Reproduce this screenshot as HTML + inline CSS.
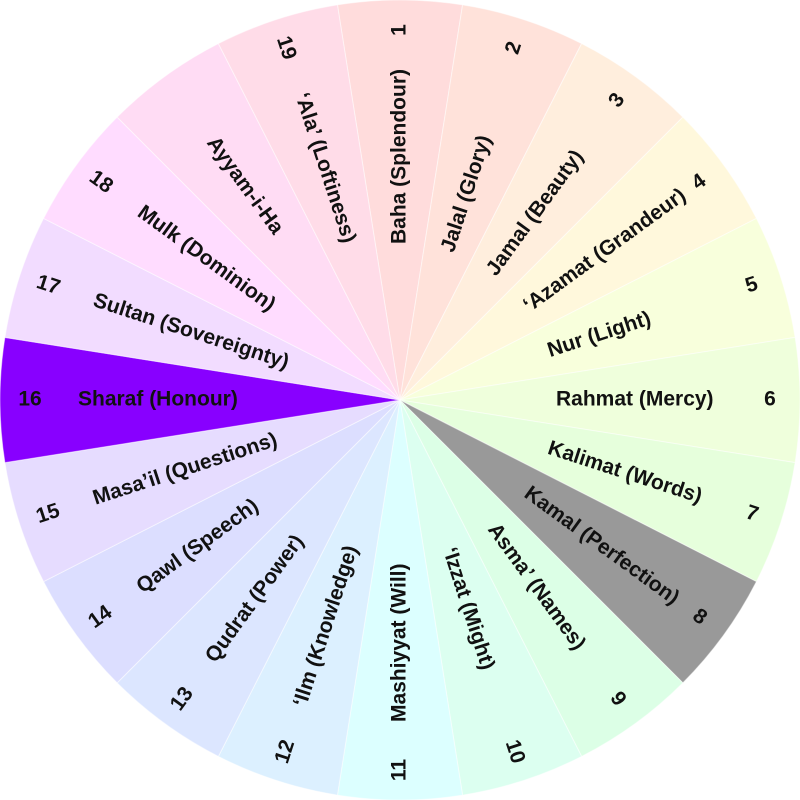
<!DOCTYPE html>
<html><head><meta charset="utf-8"><style>
html,body{margin:0;padding:0;background:#fff;width:800px;height:800px;overflow:hidden}
text{font-family:"Liberation Sans",sans-serif;font-size:21px;font-weight:bold;fill:#111}
</style></head><body>
<svg id="s" width="800" height="800" viewBox="0 0 800 800" xmlns="http://www.w3.org/2000/svg"></svg>
<script>
var names=["Baha (Splendour)","Jalal (Glory)","Jamal (Beauty)","‘Azamat (Grandeur)","Nur (Light)","Rahmat (Mercy)","Kalimat (Words)","Kamal (Perfection)","Asma’ (Names)","‘Izzat (Might)","Mashiyyat (Will)","‘Ilm (Knowledge)","Qudrat (Power)","Qawl (Speech)","Masa’il (Questions)","Sharaf (Honour)","Sultan (Sovereignty)","Mulk (Dominion)","Ayyam-i-Ha","‘Ala’ (Loftiness)"];
var nums=["1","2","3","4","5","6","7","8","9","10","11","12","13","14","15","16","17","18","","19"];
var cols=["#ffdcdc","#ffe2da","#ffeedd","#fff8dc","#f8ffdc","#efffdc","#e6ffdc","#999999","#dcffe6","#dcfff0","#dcffff","#dcf0ff","#dce6ff","#dcdeff","#e6dcff","#8800ff","#f2dcff","#ffdcff","#ffdcf4","#ffdce8"];
var s=document.getElementById('s'),h='';
function p(a){a=a*Math.PI/180;return (400+400*Math.sin(a)).toFixed(2)+','+(400-400*Math.cos(a)).toFixed(2);}
for(var i=0;i<20;i++){var t=18*i;
h+='<path d="M400,400 L'+p(t-9)+' A400,400 0 0 1 '+p(t+9)+' Z" fill="'+cols[i]+'" stroke="rgba(255,255,255,0.5)" stroke-width="1"/>';}
for(var i=0;i<20;i++){var t=18*i;
if(t<180){h+='<g transform="rotate('+(t-90)+' 400 400)"><text x="556" y="400" dominant-baseline="middle" text-anchor="start">'+names[i]+'</text><text x="770" y="400" dominant-baseline="middle" text-anchor="middle">'+nums[i]+'</text></g>';}
else{h+='<g transform="rotate('+(t+90)+' 400 400)"><text x="78" y="400" dominant-baseline="middle" text-anchor="start">'+names[i]+'</text><text x="30" y="400" dominant-baseline="middle" text-anchor="middle">'+nums[i]+'</text></g>';}}
s.innerHTML=h;
</script>
</body></html>
